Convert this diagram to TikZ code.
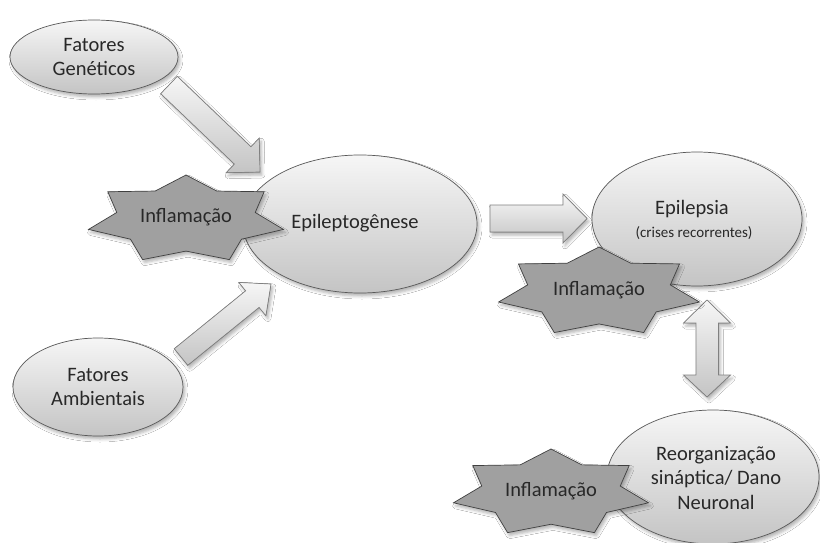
\documentclass[tikz,border=0pt]{standalone}
\usepackage{fontspec}
\setmainfont{Carlito}
\usetikzlibrary{calc,shapes.geometric,shadows.blur}
\definecolor{lightfill}{RGB}{246,246,246}
\definecolor{darkfill}{RGB}{196,196,196}
\definecolor{starfill}{RGB}{160,160,160}
\definecolor{txt}{RGB}{40,40,40}
\tikzset{
  softshadow/.style={blur shadow={shadow xshift=2pt,shadow yshift=-3pt,shadow blur radius=3pt,shadow opacity=30}},
  bubble/.style={ellipse,draw=black!65,line width=0.7pt,top color=lightfill,bottom color=darkfill,
    softshadow,inner sep=0pt,align=center,text=txt,font=\fontsize{20.5}{24.5}\selectfont},
  label/.style={inner sep=0pt,text=txt,align=center,font=\fontsize{20.5}{24.3}\selectfont},
  blockarrow/.style={draw=black!50,line width=0.7pt,top color=lightfill,bottom color=darkfill,softshadow,line join=miter},
  starshape/.style={draw=black!75,line width=0.7pt,fill=starfill,softshadow,line join=miter},
}
\newcommand\blockarrow[5]{%
  \coordinate (h) at ($(#2)!#5!(#1)$);
  \filldraw[blockarrow] ($(#1)!#3!90:(#2)$) -- ($(h)!#3!90:(#2)$) -- ($(h)!#4!90:(#2)$) -- (#2)
    -- ($(h)!#4!-90:(#2)$) -- ($(h)!#3!-90:(#2)$) -- ($(#1)!#3!-90:(#2)$) -- cycle;}
\newcommand\inflstar[5]{%
  \filldraw[starshape] plot[samples at={0,...,13},variable=\k]
    ({#2+#4*(1-0.29*mod(\k,2))*cos(90+\k*180/7)},{#3-#5*(1-0.29*mod(\k,2))*sin(90+\k*180/7)}) -- cycle;
  \node[label] (#1) at (#2,#3-2) {Inflamação};}
\begin{document}
\begin{tikzpicture}[x=1pt,y=-1pt]
\useasboundingbox (0,0) rectangle (820,543);
\fill[white] (0,0) rectangle (820,543);

% arrows
\coordinate (a1s) at (169,85);   \coordinate (a1e) at (260,172);
\coordinate (a2s) at (181,357);  \coordinate (a2e) at (271,284);
\coordinate (a3s) at (490,218.5);\coordinate (a3e) at (587,218.5);
\blockarrow{a1s}{a1e}{12pt}{24pt}{24pt}
\blockarrow{a2s}{a2e}{10.7pt}{21.5pt}{24pt}
\blockarrow{a3s}{a3e}{13.5pt}{24.5pt}{24pt}
\coordinate (dtop) at (707,300); \coordinate (dbot) at (707,397);
\filldraw[blockarrow] (dtop) -- ++(23.5,23) -- ++(-12,0) -- ++(0,52) -- ++(12,0) -- (dbot)
  -- ++(-23.5,-22) -- ++(12.5,0) -- ++(0,-52) -- ++(-12.5,0) -- cycle;

% ellipses
\node[bubble,minimum width=168pt,minimum height=74pt] (gen) at (94,57) {Fatores\\Genéticos};
\node[bubble,minimum width=170pt,minimum height=98pt] (amb) at (98,387) {Fatores\\Ambientais};
\node[bubble,minimum width=234pt,minimum height=138pt] (epg) at (360,224) {};
\node[label] (epgt) at (355,223) {Epileptogênese};
\node[bubble,minimum width=210pt,minimum height=134pt] (epi) at (697,219) {};
\node[label] (epit) at (692,209) {Epilepsia};
\node[label,font=\fontsize{15}{17}\selectfont] (epic) at (694,233) {(crises recorrentes)};
\node[bubble,minimum width=212pt,minimum height=134pt] (reo) at (713,477) {};
\node[label] (reot) at (716,478) {Reorganização\\sináptica/ Dano\\Neuronal};

% stars
\inflstar{inf1}{186}{219.5}{100}{44.5}
\inflstar{inf2}{599}{292}{103}{45}
\inflstar{inf3}{551}{493}{100}{44}
\end{tikzpicture}
\end{document}
